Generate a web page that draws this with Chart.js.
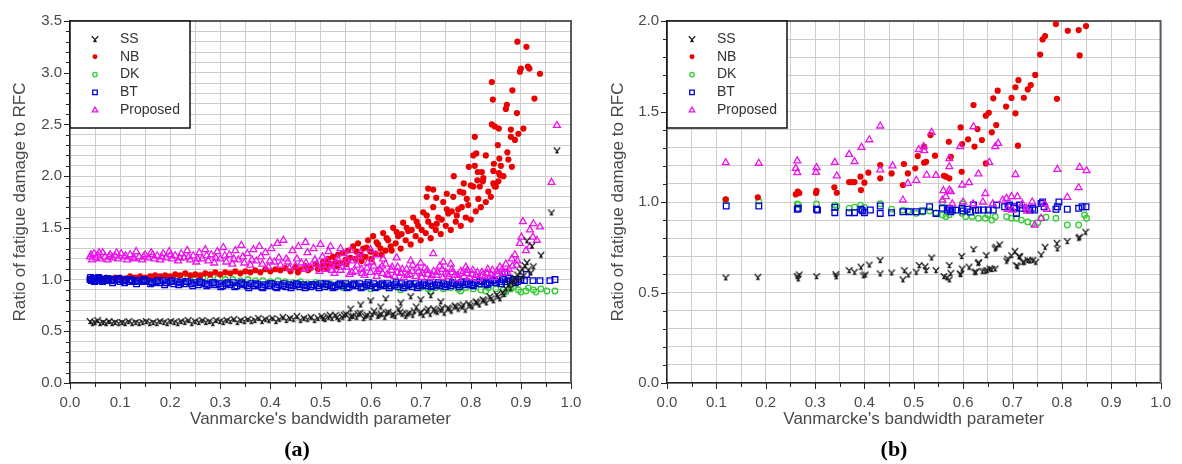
<!DOCTYPE html>
<html><head><meta charset="utf-8">
<script src="https://cdn.jsdelivr.net/npm/chart.js@4.4.1/dist/chart.umd.min.js"></script>
<style>
html,body{margin:0;padding:0;background:#fff;width:1182px;height:464px;overflow:hidden;position:relative;font-family:"Liberation Sans",Arial,sans-serif}
#ca{position:absolute;left:0;top:0}
#cb{position:absolute;left:596px;top:0}
.lab{position:absolute;top:436px;font:bold 22px "Liberation Serif","Times New Roman",serif;color:#000;transform:translateX(-50%);white-space:nowrap}
</style></head><body>
<canvas id="ca" width="600" height="440"></canvas>
<canvas id="cb" width="586" height="440"></canvas>
<div class="lab" style="left:297px">(a)</div>
<div class="lab" style="left:894px">(b)</div>
<script>
// ---------- Data ----------
const seriesNames = ['SS','NB','DK','BT','Proposed'];
const xTitle = "Vanmarcke's bandwidth parameter";
const yTitle = 'Ratio of fatigue damage to RFC';
const panelLabels = ['(a)','(b)'];
const xRange = [0, 1];
const yRangeA = [0, 3.5];
const yRangeB = [0, 2.0];

// Panel (a)
const aSS = [[0.040,0.60],[0.045,0.58],[0.050,0.59],[0.055,0.61],[0.060,0.58],[0.066,0.59],[0.072,0.58],[0.078,0.60],[0.084,0.58],[0.090,0.59],[0.097,0.58],[0.104,0.59],[0.110,0.58],[0.117,0.60],[0.124,0.58],[0.131,0.59],[0.138,0.58],[0.145,0.59],[0.152,0.60],[0.159,0.58],[0.166,0.59],[0.173,0.58],[0.180,0.60],[0.187,0.59],[0.194,0.58],[0.201,0.60],[0.208,0.59],[0.215,0.58],[0.222,0.60],[0.229,0.59],[0.236,0.61],[0.243,0.58],[0.250,0.60],[0.257,0.59],[0.264,0.61],[0.271,0.59],[0.278,0.60],[0.285,0.58],[0.292,0.61],[0.299,0.60],[0.306,0.59],[0.313,0.61],[0.320,0.60],[0.327,0.62],[0.334,0.59],[0.341,0.61],[0.348,0.60],[0.355,0.62],[0.362,0.60],[0.369,0.61],[0.376,0.63],[0.383,0.60],[0.390,0.62],[0.397,0.61],[0.404,0.63],[0.411,0.60],[0.418,0.62],[0.425,0.64],[0.432,0.61],[0.439,0.63],[0.446,0.62],[0.453,0.65],[0.460,0.61],[0.467,0.63],[0.474,0.62],[0.481,0.64],[0.488,0.61],[0.495,0.63],[0.502,0.65],[0.509,0.62],[0.516,0.64],[0.523,0.63],[0.530,0.66],[0.537,0.62],[0.544,0.64],[0.551,0.67],[0.558,0.63],[0.565,0.65],[0.572,0.64],[0.579,0.68],[0.586,0.63],[0.593,0.66],[0.600,0.64],[0.607,0.70],[0.614,0.65],[0.621,0.67],[0.628,0.64],[0.635,0.69],[0.642,0.66],[0.649,0.65],[0.656,0.72],[0.663,0.67],[0.670,0.65],[0.677,0.68],[0.684,0.66],[0.691,0.74],[0.698,0.68],[0.705,0.66],[0.712,0.70],[0.719,0.67],[0.726,0.72],[0.733,0.69],[0.740,0.71],[0.747,0.68],[0.754,0.73],[0.761,0.70],[0.768,0.75],[0.775,0.72],[0.782,0.74],[0.789,0.71],[0.796,0.77],[0.803,0.74],[0.810,0.79],[0.817,0.76],[0.824,0.81],[0.831,0.78],[0.838,0.84],[0.845,0.80],[0.852,0.86],[0.858,0.82],[0.864,0.88],[0.600,0.80],[0.630,0.82],[0.660,0.78],[0.680,0.84],[0.700,0.81],[0.720,0.85],[0.740,0.79],[0.620,0.74],[0.560,0.72],[0.580,0.76],[0.870,0.92],[0.876,0.96],[0.882,0.99],[0.888,1.02],[0.893,1.05],[0.898,1.08],[0.903,1.11],[0.908,1.14],[0.912,1.17],[0.905,1.04],[0.915,1.10],[0.920,1.07],[0.925,1.13],[0.912,1.38],[0.922,1.33],[0.940,1.24],[0.961,1.65],[0.972,2.25],[0.505,0.63],[0.519,0.66],[0.533,0.64],[0.547,0.66],[0.561,0.65],[0.575,0.67],[0.589,0.65],[0.603,0.67],[0.617,0.66],[0.631,0.68],[0.645,0.67],[0.659,0.69],[0.673,0.67],[0.687,0.70],[0.701,0.69],[0.715,0.72],[0.729,0.70],[0.743,0.73],[0.757,0.72],[0.771,0.74],[0.785,0.76],[0.799,0.75],[0.813,0.78],[0.827,0.80],[0.841,0.82],[0.855,0.84],[0.867,0.86],[0.879,0.92],[0.890,0.97],[0.900,1.02]];
const aNB = [[0.040,1.00],[0.048,1.01],[0.056,1.00],[0.064,1.01],[0.072,1.02],[0.080,1.01],[0.090,1.02],[0.100,1.02],[0.110,1.01],[0.120,1.03],[0.130,1.02],[0.140,1.03],[0.150,1.02],[0.160,1.03],[0.170,1.04],[0.180,1.03],[0.190,1.04],[0.200,1.03],[0.210,1.05],[0.220,1.04],[0.230,1.06],[0.240,1.04],[0.250,1.05],[0.260,1.04],[0.270,1.06],[0.280,1.05],[0.290,1.07],[0.300,1.05],[0.310,1.07],[0.320,1.06],[0.330,1.08],[0.340,1.06],[0.350,1.08],[0.360,1.07],[0.370,1.09],[0.380,1.07],[0.390,1.10],[0.400,1.08],[0.410,1.10],[0.420,1.09],[0.430,1.11],[0.440,1.08],[0.450,1.12],[0.460,1.10],[0.470,1.13],[0.480,1.11],[0.490,1.15],[0.500,1.12],[0.505,1.17],[0.510,1.14],[0.515,1.20],[0.520,1.15],[0.525,1.22],[0.530,1.17],[0.535,1.24],[0.540,1.16],[0.545,1.26],[0.550,1.19],[0.555,1.28],[0.560,1.21],[0.565,1.32],[0.570,1.20],[0.575,1.35],[0.580,1.24],[0.585,1.30],[0.590,1.22],[0.595,1.38],[0.600,1.27],[0.605,1.42],[0.610,1.25],[0.615,1.34],[0.620,1.30],[0.625,1.45],[0.630,1.28],[0.635,1.38],[0.640,1.32],[0.645,1.50],[0.650,1.35],[0.655,1.42],[0.660,1.30],[0.665,1.55],[0.670,1.38],[0.675,1.47],[0.680,1.34],[0.685,1.60],[0.690,1.42],[0.695,1.52],[0.700,1.38],[0.705,1.65],[0.710,1.45],[0.715,1.56],[0.720,1.40],[0.725,1.70],[0.730,1.48],[0.735,1.60],[0.740,1.44],[0.745,1.75],[0.750,1.52],[0.755,1.64],[0.760,1.48],[0.765,1.80],[0.770,1.56],[0.775,1.68],[0.780,1.52],[0.785,1.84],[0.790,1.60],[0.795,1.72],[0.800,1.58],[0.805,1.90],[0.810,1.66],[0.815,1.78],[0.820,1.70],[0.825,1.98],[0.830,1.75],[0.835,1.85],[0.840,1.80],[0.845,2.05],[0.850,1.90],[0.855,1.95],[0.860,2.10],[0.865,2.00],[0.455,1.07],[0.475,1.09],[0.495,1.10],[0.512,1.11],[0.532,1.13],[0.552,1.15],[0.572,1.27],[0.592,1.31],[0.612,1.36],[0.632,1.40],[0.652,1.46],[0.672,1.50],[0.692,1.56],[0.712,1.62],[0.732,1.54],[0.752,1.68],[0.772,1.62],[0.792,1.78],[0.702,1.48],[0.722,1.52],[0.742,1.58],[0.762,1.66],[0.782,1.70],[0.642,1.28],[0.662,1.44],[0.682,1.48],[0.622,1.24],[0.602,1.20],[0.582,1.18],[0.893,3.30],[0.911,3.25],[0.900,3.04],[0.914,3.06],[0.898,3.01],[0.917,3.04],[0.938,2.99],[0.842,2.91],[0.883,2.83],[0.844,2.74],[0.927,2.75],[0.872,2.69],[0.870,2.65],[0.892,2.61],[0.842,2.50],[0.848,2.48],[0.856,2.46],[0.880,2.45],[0.895,2.41],[0.905,2.46],[0.880,2.38],[0.888,2.35],[0.808,2.38],[0.854,2.30],[0.873,2.23],[0.811,2.22],[0.805,2.20],[0.830,2.20],[0.857,2.17],[0.875,2.16],[0.846,2.12],[0.796,2.09],[0.808,2.10],[0.882,2.09],[0.814,2.04],[0.822,2.04],[0.856,2.03],[0.858,2.01],[0.766,2.00],[0.813,1.96],[0.824,1.95],[0.845,1.93],[0.848,1.90],[0.786,1.93],[0.800,1.91],[0.818,1.90],[0.715,1.88],[0.725,1.87],[0.752,1.83],[0.778,1.85],[0.712,1.80],[0.731,1.79]];
const aDK = [[0.040,1.00],[0.050,1.01],[0.060,1.00],[0.070,1.00],[0.080,1.01],[0.090,1.00],[0.100,1.00],[0.115,1.01],[0.130,1.00],[0.145,1.01],[0.160,1.00],[0.175,1.01],[0.190,1.00],[0.205,1.01],[0.220,1.00],[0.235,1.01],[0.250,1.00],[0.265,1.01],[0.280,1.00],[0.295,1.01],[0.310,1.00],[0.325,1.00],[0.340,0.99],[0.355,1.00],[0.370,0.99],[0.385,0.99],[0.400,0.98],[0.415,0.99],[0.430,0.98],[0.445,0.97],[0.460,0.98],[0.475,0.96],[0.490,0.97],[0.505,0.95],[0.520,0.96],[0.535,0.95],[0.550,0.94],[0.565,0.95],[0.580,0.93],[0.595,0.94],[0.610,0.93],[0.625,0.94],[0.640,0.92],[0.655,0.93],[0.670,0.92],[0.685,0.93],[0.700,0.92],[0.715,0.91],[0.730,0.92],[0.745,0.91],[0.760,0.92],[0.775,0.91],[0.790,0.92],[0.805,0.91],[0.820,0.90],[0.835,0.92],[0.850,0.91],[0.865,0.90],[0.880,0.91],[0.895,0.90],[0.910,0.89],[0.925,0.90],[0.940,0.91],[0.952,0.89],[0.968,0.89],[0.870,0.88],[0.885,0.93],[0.900,0.88],[0.915,0.92],[0.930,0.88],[0.512,0.93],[0.545,0.92],[0.600,0.91],[0.660,0.90],[0.720,0.89],[0.780,0.89],[0.830,0.89]];
const aBT = [[0.040,1.00],[0.043,0.99],[0.046,1.01],[0.050,1.00],[0.054,0.99],[0.058,1.01],[0.062,1.00],[0.067,0.99],[0.072,1.00],[0.077,0.99],[0.082,1.00],[0.088,0.99],[0.094,1.00],[0.100,0.98],[0.106,0.99],[0.112,1.00],[0.118,0.98],[0.124,0.99],[0.130,0.98],[0.137,0.99],[0.144,0.98],[0.151,0.99],[0.158,0.98],[0.165,0.97],[0.172,0.98],[0.179,0.97],[0.186,0.99],[0.193,0.97],[0.200,0.98],[0.207,0.96],[0.214,0.98],[0.221,0.97],[0.228,0.96],[0.235,0.98],[0.242,0.96],[0.249,0.97],[0.256,0.95],[0.263,0.97],[0.270,0.96],[0.277,0.95],[0.284,0.97],[0.291,0.95],[0.298,0.96],[0.305,0.94],[0.312,0.96],[0.319,0.95],[0.326,0.97],[0.333,0.94],[0.340,0.96],[0.347,0.95],[0.354,0.94],[0.361,0.96],[0.368,0.94],[0.375,0.95],[0.382,0.93],[0.389,0.95],[0.396,0.94],[0.403,0.96],[0.410,0.93],[0.417,0.95],[0.424,0.94],[0.431,0.93],[0.438,0.95],[0.445,0.94],[0.452,0.96],[0.459,0.93],[0.466,0.95],[0.473,0.94],[0.480,0.93],[0.487,0.95],[0.494,0.94],[0.501,0.96],[0.508,0.93],[0.515,0.95],[0.522,0.94],[0.529,0.93],[0.536,0.95],[0.543,0.94],[0.550,0.96],[0.557,0.93],[0.564,0.95],[0.571,0.94],[0.578,0.96],[0.585,0.93],[0.592,0.95],[0.599,0.94],[0.606,0.96],[0.613,0.93],[0.620,0.95],[0.627,0.94],[0.634,0.96],[0.641,0.94],[0.648,0.95],[0.655,0.93],[0.662,0.96],[0.669,0.94],[0.676,0.95],[0.683,0.93],[0.690,0.96],[0.697,0.94],[0.704,0.95],[0.711,0.94],[0.718,0.96],[0.725,0.94],[0.732,0.95],[0.739,0.94],[0.746,0.96],[0.753,0.95],[0.760,0.94],[0.767,0.96],[0.774,0.95],[0.781,0.97],[0.788,0.95],[0.795,0.96],[0.802,0.95],[0.809,0.97],[0.816,0.96],[0.823,0.98],[0.830,0.96],[0.837,0.97],[0.844,0.99],[0.851,0.97],[0.858,0.98],[0.865,1.00],[0.872,0.98],[0.879,0.99],[0.886,1.00],[0.893,0.98],[0.900,1.00],[0.907,0.99],[0.852,1.03],[0.868,1.07],[0.911,1.05],[0.924,0.99],[0.938,0.99],[0.958,0.99],[0.968,1.00],[0.041,1.02],[0.049,0.98],[0.057,1.02],[0.065,0.98],[0.075,1.01],[0.085,0.97],[0.097,1.01],[0.109,0.97],[0.121,1.00],[0.133,0.96],[0.147,1.00],[0.161,0.96],[0.175,0.99],[0.189,0.95],[0.203,0.99],[0.217,0.95],[0.231,0.98],[0.245,0.94],[0.259,0.98],[0.273,0.94],[0.287,0.97],[0.301,0.93],[0.315,0.97],[0.329,0.93],[0.343,0.97],[0.357,0.92],[0.371,0.96],[0.385,0.92],[0.399,0.96],[0.413,0.92],[0.427,0.96],[0.441,0.92],[0.455,0.95],[0.469,0.92],[0.483,0.95],[0.497,0.92],[0.511,0.96],[0.525,0.92],[0.539,0.96],[0.553,0.92],[0.567,0.96],[0.581,0.92],[0.595,0.97],[0.609,0.92],[0.623,0.96],[0.637,0.92],[0.651,0.97],[0.665,0.92],[0.679,0.96],[0.693,0.92],[0.707,0.97],[0.721,0.93],[0.735,0.97],[0.749,0.93],[0.763,0.97],[0.777,0.93],[0.791,0.98],[0.805,0.94],[0.819,0.99],[0.833,0.95],[0.847,1.00],[0.861,0.96],[0.875,1.01],[0.889,0.97]];
const aProp = [[0.040,1.22],[0.044,1.19],[0.048,1.25],[0.052,1.21],[0.056,1.23],[0.060,1.20],[0.065,1.26],[0.070,1.22],[0.075,1.19],[0.080,1.24],[0.085,1.21],[0.090,1.23],[0.096,1.20],[0.102,1.25],[0.108,1.22],[0.114,1.19],[0.120,1.24],[0.126,1.21],[0.132,1.27],[0.138,1.22],[0.144,1.19],[0.150,1.24],[0.156,1.21],[0.162,1.26],[0.168,1.20],[0.174,1.23],[0.180,1.19],[0.186,1.25],[0.192,1.21],[0.198,1.27],[0.204,1.20],[0.210,1.23],[0.216,1.18],[0.222,1.25],[0.228,1.21],[0.234,1.28],[0.240,1.19],[0.246,1.23],[0.252,1.17],[0.258,1.26],[0.264,1.20],[0.270,1.29],[0.276,1.18],[0.282,1.24],[0.288,1.16],[0.294,1.27],[0.300,1.20],[0.306,1.31],[0.312,1.17],[0.318,1.24],[0.324,1.15],[0.330,1.28],[0.336,1.19],[0.342,1.33],[0.348,1.16],[0.354,1.25],[0.360,1.14],[0.366,1.29],[0.372,1.18],[0.378,1.32],[0.384,1.15],[0.390,1.26],[0.396,1.12],[0.402,1.30],[0.408,1.17],[0.414,1.35],[0.420,1.14],[0.426,1.38],[0.432,1.20],[0.438,1.11],[0.444,1.28],[0.450,1.13],[0.456,1.32],[0.462,1.16],[0.468,1.10],[0.474,1.26],[0.480,1.12],[0.486,1.30],[0.492,1.15],[0.498,1.08],[0.504,1.22],[0.510,1.10],[0.516,1.27],[0.522,1.13],[0.528,1.06],[0.534,1.20],[0.540,1.09],[0.546,1.25],[0.552,1.12],[0.558,1.05],[0.564,1.18],[0.570,1.08],[0.576,1.22],[0.582,1.10],[0.588,1.04],[0.594,1.16],[0.600,1.07],[0.606,1.13],[0.612,1.03],[0.618,1.10],[0.624,1.06],[0.630,1.15],[0.636,1.04],[0.642,1.09],[0.648,1.03],[0.654,1.12],[0.660,1.06],[0.666,1.02],[0.672,1.10],[0.678,1.05],[0.684,1.14],[0.690,1.03],[0.696,1.08],[0.702,1.02],[0.708,1.11],[0.714,1.05],[0.720,1.02],[0.726,1.08],[0.732,1.04],[0.738,1.13],[0.744,1.02],[0.750,1.07],[0.756,1.03],[0.762,1.10],[0.768,1.04],[0.774,1.01],[0.780,1.08],[0.786,1.03],[0.792,1.06],[0.798,1.02],[0.804,1.09],[0.810,1.04],[0.816,1.01],[0.822,1.07],[0.828,1.03],[0.834,1.10],[0.840,1.05],[0.846,1.02],[0.852,1.08],[0.858,1.12],[0.864,1.06],[0.870,1.15],[0.876,1.10],[0.882,1.20],[0.888,1.24],[0.892,1.14],[0.898,1.35],[0.901,1.41],[0.904,1.56],[0.910,1.28],[0.918,1.48],[0.918,1.32],[0.924,1.41],[0.925,1.54],[0.932,1.38],[0.938,1.51],[0.961,1.94],[0.972,2.49],[0.600,1.29],[0.610,1.24],[0.625,1.20],[0.652,1.21],[0.680,1.18],[0.700,1.16],[0.725,1.25],[0.745,1.17],[0.760,1.15],[0.790,1.12],[0.540,1.30],[0.560,1.28],[0.580,1.26],[0.520,1.32],[0.500,1.34],[0.470,1.36],[0.503,1.14],[0.513,1.18],[0.523,1.09],[0.533,1.16],[0.543,1.12],[0.553,1.19],[0.563,1.07],[0.573,1.14],[0.583,1.06],[0.593,1.11],[0.603,1.17],[0.613,1.08],[0.623,1.13],[0.633,1.05],[0.643,1.12],[0.653,1.07],[0.663,1.10],[0.673,1.04],[0.683,1.08],[0.693,1.11],[0.703,1.06],[0.713,1.09],[0.723,1.04],[0.733,1.07],[0.743,1.10],[0.753,1.05],[0.763,1.07],[0.773,1.04],[0.783,1.06],[0.793,1.09],[0.803,1.05],[0.813,1.07],[0.823,1.04],[0.833,1.06],[0.843,1.09],[0.853,1.05],[0.863,1.10],[0.873,1.07],[0.883,1.13],[0.893,1.18],[0.042,1.24],[0.058,1.26],[0.078,1.22],[0.093,1.26],[0.111,1.23],[0.129,1.20],[0.147,1.22],[0.165,1.24],[0.183,1.22],[0.201,1.24],[0.219,1.21],[0.237,1.22],[0.255,1.20],[0.273,1.23],[0.291,1.21],[0.309,1.23],[0.327,1.20],[0.345,1.22],[0.363,1.19],[0.381,1.22],[0.399,1.18],[0.417,1.21],[0.435,1.17],[0.453,1.20],[0.471,1.16],[0.489,1.19]];

// Panel (b)
const bSS = [[0.119,0.584],[0.184,0.587],[0.264,0.591],[0.266,0.578],[0.268,0.600],[0.303,0.591],[0.342,0.602],[0.343,0.590],[0.369,0.624],[0.380,0.615],[0.393,0.643],[0.398,0.595],[0.402,0.600],[0.410,0.655],[0.432,0.680],[0.432,0.606],[0.455,0.611],[0.478,0.573],[0.481,0.624],[0.489,0.600],[0.505,0.615],[0.511,0.652],[0.523,0.646],[0.525,0.624],[0.536,0.694],[0.545,0.624],[0.561,0.591],[0.567,0.584],[0.572,0.573],[0.575,0.609],[0.572,0.652],[0.595,0.602],[0.598,0.633],[0.597,0.702],[0.612,0.643],[0.621,0.740],[0.623,0.615],[0.630,0.665],[0.639,0.620],[0.647,0.707],[0.649,0.624],[0.654,0.633],[0.665,0.633],[0.667,0.753],[0.674,0.766],[0.690,0.688],[0.698,0.707],[0.705,0.731],[0.710,0.646],[0.713,0.702],[0.721,0.670],[0.731,0.680],[0.741,0.680],[0.747,0.670],[0.758,0.711],[0.766,0.753],[0.790,0.775],[0.791,0.744],[0.811,0.785],[0.834,0.803],[0.836,0.808],[0.848,0.836],[0.594,0.606],[0.626,0.615],[0.632,0.667],[0.645,0.620],[0.658,0.630],[0.665,0.744],[0.688,0.676],[0.708,0.652],[0.715,0.700],[0.724,0.670],[0.735,0.677]];
const bNB = [[0.119,1.015],[0.184,1.026],[0.265,1.057],[0.261,1.042],[0.268,1.050],[0.303,1.062],[0.302,1.050],[0.339,1.081],[0.344,1.051],[0.369,1.110],[0.380,1.110],[0.375,1.110],[0.393,1.066],[0.392,1.140],[0.400,1.107],[0.408,1.162],[0.432,1.204],[0.432,1.131],[0.455,1.158],[0.478,1.094],[0.480,1.210],[0.488,1.158],[0.503,1.186],[0.508,1.254],[0.521,1.306],[0.521,1.217],[0.525,1.222],[0.534,1.370],[0.543,1.256],[0.561,1.145],[0.565,1.140],[0.571,1.333],[0.572,1.131],[0.575,1.250],[0.595,1.412],[0.597,1.167],[0.598,1.320],[0.610,1.346],[0.621,1.536],[0.623,1.306],[0.629,1.403],[0.638,1.342],[0.646,1.477],[0.646,1.213],[0.652,1.493],[0.658,1.385],[0.661,1.573],[0.667,1.425],[0.670,1.615],[0.687,1.527],[0.698,1.575],[0.706,1.490],[0.706,1.634],[0.711,1.311],[0.712,1.673],[0.723,1.576],[0.731,1.622],[0.737,1.646],[0.746,1.702],[0.756,1.815],[0.761,1.898],[0.766,1.917],[0.788,1.983],[0.790,1.570],[0.812,1.946],[0.834,1.950],[0.836,1.810],[0.849,1.972]];
const bDK = [[0.119,1.011],[0.186,1.005],[0.264,0.989],[0.266,0.985],[0.303,0.989],[0.340,0.983],[0.344,0.975],[0.369,0.965],[0.380,0.971],[0.392,0.983],[0.400,0.970],[0.432,0.990],[0.455,0.960],[0.478,0.955],[0.488,0.950],[0.505,0.937],[0.518,0.945],[0.532,0.950],[0.545,0.940],[0.558,0.928],[0.558,1.000],[0.565,0.919],[0.572,0.930],[0.598,0.937],[0.598,0.990],[0.605,0.919],[0.618,0.919],[0.631,0.910],[0.645,0.910],[0.650,0.930],[0.658,0.900],[0.665,0.919],[0.688,0.919],[0.698,0.910],[0.708,0.910],[0.718,0.900],[0.731,0.890],[0.741,0.882],[0.751,0.886],[0.758,0.910],[0.768,0.916],[0.788,0.910],[0.811,0.873],[0.834,0.873],[0.846,0.928],[0.850,0.910]];
const bBT = [[0.120,0.978],[0.186,0.978],[0.264,0.960],[0.266,0.965],[0.303,0.960],[0.305,0.955],[0.340,0.971],[0.340,0.941],[0.369,0.941],[0.380,0.941],[0.393,0.960],[0.396,0.952],[0.400,0.941],[0.412,0.956],[0.432,0.978],[0.432,0.937],[0.455,0.941],[0.478,0.946],[0.491,0.946],[0.505,0.946],[0.518,0.950],[0.532,0.974],[0.545,0.937],[0.558,0.965],[0.568,0.956],[0.575,0.946],[0.578,0.956],[0.572,0.965],[0.598,0.965],[0.608,0.960],[0.621,0.983],[0.631,0.956],[0.641,0.956],[0.651,0.956],[0.661,0.956],[0.668,0.983],[0.684,0.974],[0.691,0.974],[0.694,0.983],[0.704,0.974],[0.705,0.965],[0.708,0.937],[0.714,0.983],[0.720,0.965],[0.727,0.965],[0.735,0.956],[0.741,0.965],[0.745,0.956],[0.758,0.992],[0.761,1.000],[0.764,0.974],[0.788,0.960],[0.794,1.000],[0.791,0.974],[0.811,0.960],[0.834,0.965],[0.841,0.974],[0.849,0.974],[0.600,0.950],[0.615,0.945],[0.625,0.955],[0.585,0.955]];
const bProp = [[0.119,1.217],[0.186,1.214],[0.264,1.227],[0.261,1.186],[0.264,1.162],[0.303,1.190],[0.302,1.164],[0.340,1.219],[0.344,1.144],[0.369,1.263],[0.380,1.223],[0.394,1.302],[0.410,1.344],[0.432,1.420],[0.432,1.177],[0.457,1.200],[0.478,1.011],[0.488,1.103],[0.505,1.120],[0.510,1.290],[0.520,1.306],[0.521,1.284],[0.536,1.385],[0.526,1.149],[0.545,1.147],[0.560,1.063],[0.565,1.030],[0.572,1.195],[0.572,1.240],[0.575,1.057],[0.594,1.306],[0.598,1.094],[0.612,1.107],[0.621,1.416],[0.631,1.155],[0.645,1.047],[0.653,1.219],[0.665,1.306],[0.671,1.324],[0.688,1.020],[0.698,1.030],[0.706,1.152],[0.710,1.030],[0.728,0.965],[0.745,0.873],[0.758,0.910],[0.791,1.180],[0.811,1.026],[0.834,1.079],[0.836,1.191],[0.850,1.173],[0.558,1.011],[0.572,1.066],[0.578,0.990],[0.600,1.000],[0.620,0.990],[0.640,1.000],[0.660,0.990],[0.680,1.010],[0.720,0.990],[0.740,1.000],[0.765,0.990],[0.770,0.960],[0.690,0.960],[0.700,0.955],[0.730,0.950]];

// ---------- Styling ----------
const FONT = '"Liberation Sans", Arial, sans-serif';
const TXT = '#4a4a4a';
function makeSSMarker(){
  const c = document.createElement('canvas'); c.width = 8; c.height = 8;
  const g = c.getContext('2d'); g.strokeStyle = '#1a1a1a'; g.lineWidth = 1.3;
  g.beginPath();
  g.moveTo(0.8,1.2); g.lineTo(4,4.6); g.lineTo(7.2,1.2);
  g.moveTo(4,4.6); g.lineTo(2.6,7.2);
  g.moveTo(4,4.6); g.lineTo(5.4,7.2);
  g.stroke();
  return c;
}
const ssImg = makeSSMarker();
const toXY = arr => arr.map(p => ({x:p[0], y:p[1]}));

function buildDatasets(ss, nb, dk, bt, pr){
  return [
    {label:seriesNames[0], data:toXY(ss), pointStyle:ssImg, pointRadius:3, backgroundColor:'#222', borderColor:'#222', borderWidth:1, order:0},
    {label:seriesNames[1], data:toXY(nb), pointStyle:'circle', pointRadius:3.1, backgroundColor:'rgb(236,0,0)', borderColor:'rgb(236,0,0)', borderWidth:0, order:3},
    {label:seriesNames[2], data:toXY(dk), pointStyle:'circle', pointRadius:2.8, backgroundColor:'rgba(0,0,0,0)', borderColor:'rgb(50,205,50)', borderWidth:1.3, order:4},
    {label:seriesNames[3], data:toXY(bt), pointStyle:'rect', pointRadius:4, backgroundColor:'rgba(0,0,0,0)', borderColor:'rgb(0,0,215)', borderWidth:1.3, order:2},
    {label:seriesNames[4], data:toXY(pr), pointStyle:'triangle', pointRadius:4, backgroundColor:'rgba(0,0,0,0)', borderColor:'rgb(235,20,235)', borderWidth:1.3, order:1}
  ];
}

const frameTicks = {
  id:'frameTicks',
  beforeDatasetsDraw(chart){
    const {ctx, chartArea:a} = chart; const xs = chart.scales.x, ys = chart.scales.y;
    ctx.save(); ctx.strokeStyle = '#222'; ctx.lineWidth = 1;
    xs.ticks.forEach(t => {
      const p = Math.round(xs.getPixelForValue(t.value)) + 0.5;
      const major = Math.round(t.value*100) % 10 === 0;
      ctx.beginPath(); ctx.moveTo(p, a.bottom); ctx.lineTo(p, a.bottom + (major ? 6 : 4)); ctx.stroke();
    });
    ys.ticks.forEach(t => {
      const p = Math.round(ys.getPixelForValue(t.value)) + 0.5;
      const major = Math.round(t.value*10) % 5 === 0;
      ctx.beginPath(); ctx.moveTo(a.left, p); ctx.lineTo(a.left - (major ? 6 : 4), p); ctx.stroke();
    });
    ctx.strokeStyle = '#5a5a5a'; ctx.lineWidth = 2;
    ctx.beginPath(); ctx.moveTo(a.left, a.top); ctx.lineTo(a.right, a.top); ctx.lineTo(a.right, a.bottom); ctx.stroke();
    ctx.restore();
  }
};
const legendBox = {
  id:'legendBox',
  afterDatasetsDraw(chart){
    const {ctx, chartArea:a} = chart;
    const x0 = a.left, y0 = a.top, w = 120, h = 107;
    ctx.save();
    ctx.fillStyle = '#fff'; ctx.fillRect(x0, y0, w, h);
    ctx.strokeStyle = '#111'; ctx.lineWidth = 1.5; ctx.strokeRect(x0, y0, w, h);
    chart.data.datasets.forEach((d, i) => {
      const y = y0 + 18 + i * 17.8;
      ctx.fillStyle = d.backgroundColor; ctx.strokeStyle = d.borderColor; ctx.lineWidth = d.borderWidth || 1;
      Chart.helpers.drawPoint(ctx, {pointStyle:d.pointStyle, radius:d.pointRadius*0.8, borderWidth:d.borderWidth, rotation:0}, x0 + 25, y);
      ctx.fillStyle = '#333'; ctx.font = '14px ' + FONT; ctx.textBaseline = 'middle'; ctx.textAlign = 'left';
      ctx.fillText(d.label, x0 + 50, y);
    });
    ctx.restore();
  }
};

function makeChart(id, datasets, yRange, yAxisW, yTitlePad, rightPad){
  return new Chart(document.getElementById(id), {
    type:'scatter',
    data:{datasets},
    plugins:[frameTicks, legendBox],
    options:{
      responsive:false, animation:false, events:[],
      layout:{padding:{left:0, top:21, right:rightPad, bottom:0}},
      plugins:{legend:{display:false}, tooltip:{enabled:false}},
      scales:{
        x:{type:'linear', min:xRange[0], max:xRange[1],
          ticks:{stepSize:0.05, autoSkip:false, maxRotation:0, padding:11, color:TXT, font:{family:FONT, size:15},
            callback:v => Math.round(v*100) % 10 === 0 ? Number(v).toFixed(1) : ''},
          grid:{color:'#cdcdcd', lineWidth:1, drawTicks:false},
          border:{color:'#222', width:1.5},
          title:{display:true, text:xTitle, color:TXT, font:{family:FONT, size:17}, padding:{top:0, bottom:10}},
          afterFit(s){ s.height = 57; }
        },
        y:{type:'linear', min:yRange[0], max:yRange[1],
          ticks:{stepSize:0.1, autoSkip:false, padding:8, color:TXT, font:{family:FONT, size:15},
            callback:v => Math.round(v*10) % 5 === 0 ? Number(v).toFixed(1) : ''},
          grid:{color:'#cdcdcd', lineWidth:1, drawTicks:false},
          border:{color:'#222', width:1.5},
          title:{display:true, text:yTitle, color:TXT, font:{family:FONT, size:17}, padding:{top:yTitlePad, bottom:0}},
          afterFit(s){ s.width = yAxisW; }
        }
      }
    }
  });
}

makeChart('ca', buildDatasets(aSS, aNB, aDK, aBT, aProp), yRangeA, 70, 10, 29);
makeChart('cb', buildDatasets(bSS, bNB, bDK, bBT, bProp), yRangeB, 71, 12, 14);
</script>
</body></html>
